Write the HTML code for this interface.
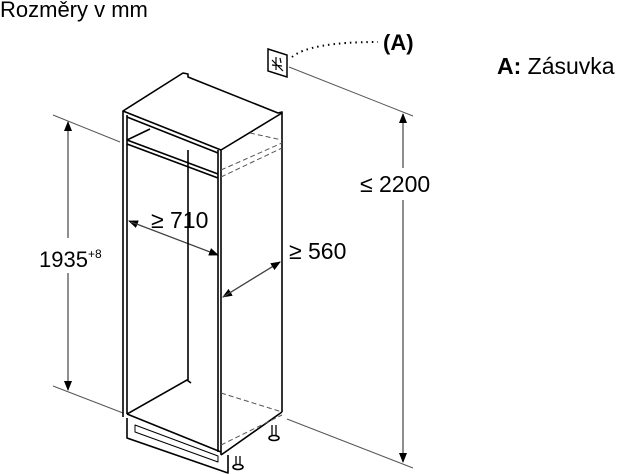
<!DOCTYPE html>
<html><head><meta charset="utf-8"><style>
html,body{margin:0;padding:0;background:#fff;}
svg{display:block;font-family:"Liberation Sans",sans-serif;}
</style></head><body>
<svg width="622" height="474" viewBox="0 0 622 474" xmlns="http://www.w3.org/2000/svg">
<defs>
<marker id="ar" markerWidth="10" markerHeight="8" refX="9" refY="4" orient="auto" markerUnits="userSpaceOnUse"><path d="M0,0 L10,4 L0,8 Z" fill="#000"/></marker>
</defs>
<text x="0" y="17" font-size="22" fill="#000">Rozměry v mm</text>
<text x="497" y="74" font-size="23" fill="#000"><tspan font-weight="bold">A:</tspan> Zásuvka</text>
<text x="383" y="50" font-size="22" font-weight="bold" fill="#000">(A)</text>
<!-- socket -->
<path d="M268,49 L287,55 L287,77 L268,71 Z" fill="#fff" stroke="#000" stroke-width="1.5"/>
<path d="M272,60 L283,71 M276,57 L276,70 M272,65 L282,66 M280,58 L281,63" stroke="#000" stroke-width="1.2" fill="none"/>
<path d="M292,57 Q310,42 378,42" stroke="#000" stroke-width="2" stroke-dasharray="1.5,4" fill="none"/>
<!-- extension lines -->
<g stroke="#555" stroke-width="1" fill="none">
<line x1="53" y1="115" x2="120" y2="142"/>
<line x1="53" y1="386" x2="123" y2="413"/>
<line x1="289" y1="67" x2="413" y2="116"/>
<line x1="287" y1="419" x2="413" y2="468"/>
</g>
<!-- dimension lines -->
<g stroke="#444" stroke-width="1.2">
<line x1="68" y1="273" x2="68" y2="390" marker-end="url(#ar)"/>
<line x1="68" y1="238" x2="68" y2="122" marker-end="url(#ar)"/>
<line x1="403" y1="200" x2="403" y2="462" marker-end="url(#ar)"/>
<line x1="403" y1="168" x2="403" y2="114" marker-end="url(#ar)"/>
<line x1="218" y1="255" x2="129" y2="221" marker-end="url(#ar)"/>
<line x1="131" y1="222" x2="218" y2="255" marker-end="url(#ar)"/>
<line x1="280" y1="262" x2="223" y2="297" marker-end="url(#ar)"/>
<line x1="223" y1="297" x2="280" y2="262" marker-end="url(#ar)"/>
</g>
<text x="39" y="267" font-size="22" fill="#000">1935<tspan font-size="12" dy="-9">+8</tspan></text>
<text x="360" y="192" font-size="23" fill="#000">≤ 2200</text>
<text x="151" y="228" font-size="23" fill="#000">≥ 710</text>
<text x="289" y="259" font-size="23" fill="#000">≥ 560</text>
<!-- cabinet -->
<g stroke="#000" stroke-width="1.6" fill="none" stroke-linejoin="round">
<path d="M123,111 L183,73 L188,74 L188,77 L278,113 L282,112 L282,113 L221,150 Z" fill="#fff"/>
<line x1="123" y1="111" x2="123" y2="417"/>
<line x1="127" y1="115" x2="127" y2="414"/>
<line x1="218" y1="150" x2="218" y2="452"/>
<line x1="221" y1="150" x2="221" y2="455"/>
<line x1="282" y1="113" x2="282" y2="412"/>
<line x1="127" y1="117" x2="218" y2="153"/>
<path d="M127,140 L150,129 M127,140 L218,174 M127,144 L218,178"/>
<line x1="188" y1="150" x2="188" y2="380"/>
<path d="M127,414 L187,380 L191,383 M127,414 L221,452"/>
<path d="M221,455 L282,412"/>
<path d="M127,418 L127,438 L228,473 L228,455"/>
<path d="M135,425 L135,432 L218,462 L218,456 Z" stroke-width="1"/>
<path d="M236,456 L236,465 M240,456 L240,465" stroke-width="1.3"/>
<ellipse cx="238" cy="467" rx="5" ry="2.5" fill="#fff"/>
<path d="M272,425 L272,436 M276,425 L276,436" stroke-width="1.3"/>
<ellipse cx="274" cy="438" rx="5" ry="2.5" fill="#fff"/>
</g>
<g stroke="#555" stroke-width="1" stroke-dasharray="5,3" fill="none">
<line x1="250" y1="133" x2="282" y2="140"/>
<line x1="221" y1="170" x2="282" y2="143"/>
<line x1="221" y1="177" x2="282" y2="148"/>
<line x1="221" y1="393" x2="282" y2="412"/>
<line x1="221" y1="445" x2="282" y2="415"/>
</g>
</svg>
</body></html>
